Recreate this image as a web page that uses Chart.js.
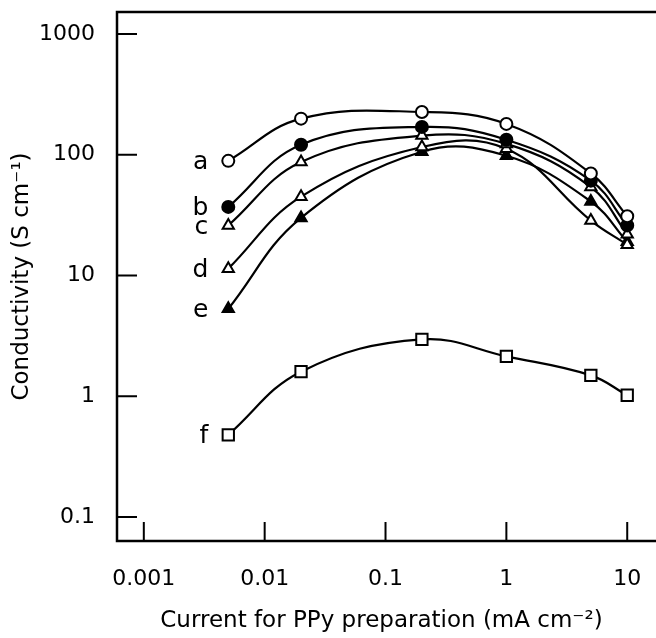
<!DOCTYPE html>
<html lang="en">
<head>
<meta charset="UTF-8">
<title>Conductivity vs current for PPy preparation</title>
<script src="https://cdn.jsdelivr.net/npm/chart.js"></script>
<style>
    html, body { margin: 0; padding: 0; background: #fff; }
    #wrap { width: 656px; height: 638px; }
</style>
</head>
<body>
<div id="wrap"><canvas id="chart" width="656" height="638"></canvas></div>
<script>
// current density (mA cm-2) used for each sample
const currents = [0.005, 0.02, 0.2, 1, 5, 10];

// conductivity (S cm-1)
const seriesA = [89, 199, 226, 180, 70, 31];
const seriesB = [37, 121, 170, 133, 61, 26];
const seriesC = [26, 87, 144, 123, 54, 22];
const seriesD = [11.4, 45, 116, 112, 28.5, 18];
const seriesE = [5.3, 30, 106, 98, 41, 19];
const seriesF = [0.48, 1.6, 2.96, 2.14, 1.49, 1.02];

const seriesNames = ['a', 'b', 'c', 'd', 'e', 'f'];

const xTickValues = [0.001, 0.01, 0.1, 1, 10];
const xTickLabels = ['0.001', '0.01', '0.1', '1', '10'];
const yTickValues = [0.1, 1, 10, 100, 1000];
const yTickLabels = ['0.1', '1', '10', '100', '1000'];

const FONT = 'DejaVu Sans';

function toPoints(values) {
    return values.map((v, i) => ({ x: currents[i], y: v }));
}

function makeSet(name, values, style, filled) {
    return {
        label: name,
        data: toPoints(values),
        borderColor: '#000',
        borderWidth: 2.2,
        pointStyle: style,
        pointRadius: style === 'rect' ? 8 : (style === 'triangle' ? 6.5 : 6),
        pointBorderWidth: 2,
        pointBorderColor: '#000',
        pointBackgroundColor: filled ? '#000' : '#fff',
        tension: 0.4,
        fill: false
    };
}

// frame with inward ticks (left, top, bottom sides only)
const framePlugin = {
    id: 'frame',
    beforeDatasetsDraw(chart) {
        const { ctx, chartArea: { left, top, bottom }, scales: { x, y } } = chart;
        ctx.save();
        ctx.strokeStyle = '#000';
        ctx.lineWidth = 2.5;
        ctx.beginPath();
        ctx.moveTo(chart.width, top);
        ctx.lineTo(left, top);
        ctx.lineTo(left, bottom);
        ctx.lineTo(chart.width, bottom);
        ctx.stroke();

        ctx.lineWidth = 2;
        ctx.beginPath();
        yTickValues.forEach(v => {
            const py = y.getPixelForValue(v);
            ctx.moveTo(left, py);
            ctx.lineTo(left + 20, py);
        });
        xTickValues.forEach(v => {
            const px = x.getPixelForValue(v);
            ctx.moveTo(px, bottom);
            ctx.lineTo(px, bottom - 19);
        });
        ctx.stroke();
        ctx.restore();
    }
};

// letters a-f next to the first point of each curve
const letterPlugin = {
    id: 'letters',
    afterDatasetsDraw(chart) {
        const { ctx } = chart;
        ctx.save();
        ctx.fillStyle = '#000';
        ctx.font = '25px "' + FONT + '"';
        ctx.textAlign = 'right';
        ctx.textBaseline = 'middle';
        chart.data.datasets.forEach((ds, i) => {
            const pt = chart.getDatasetMeta(i).data[0];
            ctx.fillText(ds.label, pt.x - 20, pt.y + 2);
        });
        ctx.restore();
    }
};

const ctx = document.getElementById('chart').getContext('2d');
const chart = new Chart(ctx, {
    type: 'line',
    data: {
        datasets: [
            makeSet(seriesNames[0], seriesA, 'circle', false),
            makeSet(seriesNames[1], seriesB, 'circle', true),
            makeSet(seriesNames[2], seriesC, 'triangle', false),
            makeSet(seriesNames[3], seriesD, 'triangle', false),
            makeSet(seriesNames[4], seriesE, 'triangle', true),
            makeSet(seriesNames[5], seriesF, 'rect', false)
        ]
    },
    options: {
        responsive: false,
        animation: false,
        layout: { padding: { top: 12, right: 0, bottom: 0, left: 0 } },
        plugins: {
            legend: { display: false },
            tooltip: { enabled: false }
        },
        scales: {
            x: {
                type: 'logarithmic',
                position: 'bottom',
                min: 0.000616,
                max: 14.3,
                afterBuildTicks: s => { s.ticks = xTickValues.map(v => ({ value: v })); },
                afterFit: s => { s.height = 97; s.paddingLeft = 0; s.paddingRight = 0; },
                ticks: {
                    callback: (v, i) => xTickLabels[i],
                    autoSkip: false,
                    maxRotation: 0,
                    padding: 0,
                    color: '#000',
                    font: { family: FONT, size: 22 }
                },
                grid: {
                    drawOnChartArea: false,
                    drawTicks: true,
                    tickLength: 25,
                    tickColor: 'rgba(0,0,0,0)'
                },
                border: { display: false },
                title: {
                    display: true,
                    text: 'Current for PPy preparation (mA cm⁻²)',
                    color: '#000',
                    font: { family: FONT, size: 23 },
                    padding: { top: 0, bottom: 3 }
                }
            },
            y: {
                type: 'logarithmic',
                position: 'left',
                min: 0.0634,
                max: 1520,
                afterBuildTicks: s => { s.ticks = yTickValues.map(v => ({ value: v })); },
                afterFit: s => { s.width = 117; s.paddingTop = 0; s.paddingBottom = 0; },
                ticks: {
                    callback: (v, i) => yTickLabels[i],
                    autoSkip: false,
                    padding: 0,
                    color: '#000',
                    font: { family: FONT, size: 22 }
                },
                grid: {
                    drawOnChartArea: false,
                    drawTicks: true,
                    tickLength: 22,
                    tickColor: 'rgba(0,0,0,0)'
                },
                border: { display: false },
                title: {
                    display: true,
                    text: 'Conductivity (S cm⁻¹)',
                    color: '#000',
                    font: { family: FONT, size: 23 },
                    padding: { top: 8, bottom: 0 }
                }
            }
        }
    },
    plugins: [framePlugin, letterPlugin]
});
</script>
</body>
</html>
